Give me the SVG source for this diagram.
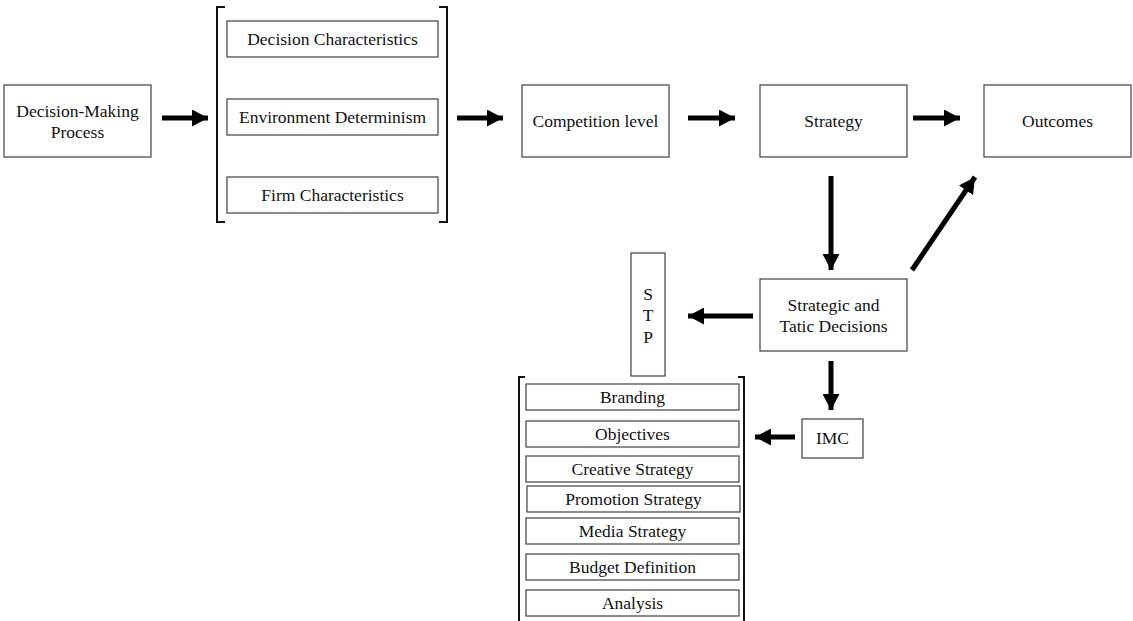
<svg xmlns="http://www.w3.org/2000/svg" width="1133" height="621" viewBox="0 0 1133 621">
<style>
.box{fill:#fff;stroke:#404040;stroke-width:1.2}
.t{font-family:"Liberation Serif","Times New Roman",serif;font-size:17.5px;fill:#111;text-anchor:middle}
.br{fill:none;stroke:#111;stroke-width:2}
.c{stroke:#000;stroke-width:5;fill:none;marker-end:url(#ah)}
</style>
<defs>
<marker id="ah" markerUnits="userSpaceOnUse" markerWidth="18" markerHeight="17" refX="16" refY="8.5" orient="auto">
<path d="M0,0 L16,8.5 L0,17 Z" fill="#000"/>
</marker>
</defs>
<rect width="1133" height="621" fill="#fff"/>
<g id="connectors">
<line class="c" x1="162" y1="118" x2="208" y2="118"/>
<line class="c" x1="457" y1="118" x2="503" y2="118"/>
<line class="c" x1="688" y1="118" x2="735" y2="118"/>
<line class="c" x1="913" y1="118" x2="960" y2="118"/>
<line class="c" x1="831" y1="176" x2="831" y2="270"/>
<line class="c" x1="912" y1="270" x2="975" y2="177"/>
<line class="c" x1="753" y1="316" x2="688" y2="316"/>
<line class="c" x1="831" y1="361" x2="831" y2="410"/>
<line class="c" x1="795" y1="437" x2="755" y2="437"/>
</g>
<g id="dmp"><rect class="box" x="4" y="85" width="147" height="72"/><text class="t" x="77.5" y="117">Decision-Making</text><text class="t" x="77.5" y="138">Process</text></g>
<g id="bracket1">
<path class="br" d="M225,7 H217 V222 H225"/>
<path class="br" d="M439,7 H447 V222 H439"/>
</g>
<g id="dc"><rect class="box" x="227" y="21" width="211" height="36"/><text class="t" x="332.5" y="45">Decision Characteristics</text></g>
<g id="ed"><rect class="box" x="227" y="99" width="211" height="36"/><text class="t" x="332.5" y="123">Environment Determinism</text></g>
<g id="fc"><rect class="box" x="227" y="177" width="211" height="36"/><text class="t" x="332.5" y="201">Firm Characteristics</text></g>
<g id="cl"><rect class="box" x="522" y="85" width="147" height="72"/><text class="t" x="595.5" y="127">Competition level</text></g>
<g id="st"><rect class="box" x="760" y="85" width="147" height="72"/><text class="t" x="833.5" y="127">Strategy</text></g>
<g id="oc"><rect class="box" x="984" y="85" width="147" height="72"/><text class="t" x="1057.5" y="127">Outcomes</text></g>
<g id="std"><rect class="box" x="760" y="279" width="147" height="72"/><text class="t" x="833.5" y="311">Strategic and</text><text class="t" x="833.5" y="332">Tatic Decisions</text></g>
<g id="stp"><rect class="box" x="631" y="253" width="34" height="123"/><text class="t" x="648" y="300">S</text><text class="t" x="648" y="321">T</text><text class="t" x="648" y="343">P</text></g>
<g id="imc"><rect class="box" x="802" y="419" width="61" height="39"/><text class="t" x="832.5" y="444">IMC</text></g>
<g id="bracket2">
<path class="br" d="M525,377 H519 V621"/>
<path class="br" d="M738,377 H744 V621"/>
</g>
<g id="branding"><rect class="box" x="526" y="384" width="213" height="26"/><text class="t" x="632.5" y="403">Branding</text></g>
<g id="objectives"><rect class="box" x="526" y="421" width="213" height="26"/><text class="t" x="632.5" y="440">Objectives</text></g>
<g id="creative"><rect class="box" x="526" y="456" width="213" height="26"/><text class="t" x="632.5" y="475">Creative Strategy</text></g>
<g id="promotion"><rect class="box" x="527" y="486" width="213" height="26"/><text class="t" x="633.5" y="505">Promotion Strategy</text></g>
<g id="media"><rect class="box" x="526" y="518" width="213" height="26"/><text class="t" x="632.5" y="537">Media Strategy</text></g>
<g id="budget"><rect class="box" x="526" y="554" width="213" height="26"/><text class="t" x="632.5" y="573">Budget Definition</text></g>
<g id="analysis"><rect class="box" x="526" y="590" width="213" height="26"/><text class="t" x="632.5" y="609">Analysis</text></g>
</svg>
